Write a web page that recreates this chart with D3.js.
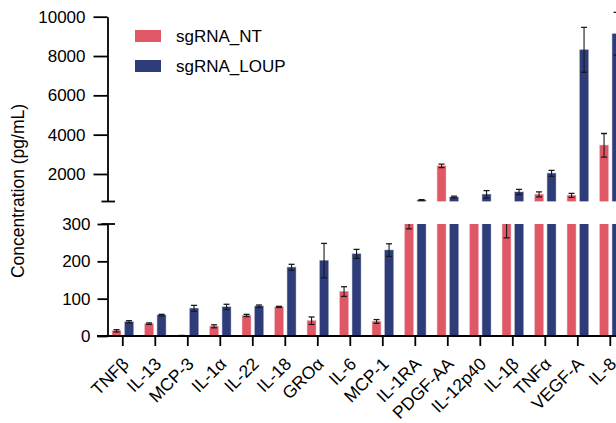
<!DOCTYPE html>
<html>
<head>
<meta charset="utf-8">
<script src="https://cdn.jsdelivr.net/npm/d3@7"></script>
<style>
  html, body { margin: 0; padding: 0; background: #fff; }
  svg { display: block; font-family: "Liberation Sans", Arial, sans-serif; }
</style>
</head>
<body>
<svg id="chart" width="616" height="423"></svg>
<script>
const categories = ["TNFβ","IL-13","MCP-3","IL-1α","IL-22","IL-18","GROα","IL-6","MCP-1","IL-1RA","PDGF-AA","IL-12p40","IL-1β","TNFα","VEGF-A","IL-8"];
const seriesNames = ["sgRNA_NT","sgRNA_LOUP"];
const ntValues   = [14, 33, 1, 26, 55, 78, 41, 119, 39, 305, 2411, 420, 340, 960, 910, 3460];
const ntErrors   = [3, 2, 0.5, 4, 3, 1.5, 10, 13, 5, 18, 90, 40, 77, 125, 100, 600];
const loupValues = [38, 56, 74, 78, 80, 184, 202, 220, 230, 670, 827, 960, 1083, 2033, 8315, 9130];
const loupErrors = [3, 2, 8, 7, 3, 8, 46, 12, 17, 30, 45, 190, 135, 150, 1140, 1090];
const lowerTicks = [0, 100, 200, 300];
const upperTicks = [2000, 4000, 6000, 8000, 10000];
const colors = ["#E05866", "#2E3D79"];

const svg = d3.select("#chart");
const fontSize = 17;

const step = 32.5;
const firstCenter = 122.8;
const x = d3.scaleBand().domain(categories)
  .range([firstCenter - step / 2, firstCenter - step / 2 + step * categories.length])
  .paddingInner(0).paddingOuter(0);
const barW = 8.5, barGap = 4;
const offsets = [-(barW + barGap) / 2, (barW + barGap) / 2];

const yLow = d3.scaleLinear().domain([0, 300]).range([336, 224]);
const yUp = d3.scaleLinear().domain([600, 10000]).range([201.5, 16.7]);

const defs = svg.append("defs");
defs.append("clipPath").attr("id", "clipLow").append("rect")
  .attr("x", 0).attr("y", yLow(300)).attr("width", 616).attr("height", yLow(0) - yLow(300));
defs.append("clipPath").attr("id", "clipUp").append("rect")
  .attr("x", 0).attr("y", 0).attr("width", 616).attr("height", yUp(600));

const series = [
  { name: seriesNames[0], values: ntValues, errors: ntErrors, color: colors[0], off: offsets[0] },
  { name: seriesNames[1], values: loupValues, errors: loupErrors, color: colors[1], off: offsets[1] }
];

function drawPanel(g, y, base) {
  series.forEach(s => {
    categories.forEach((c, i) => {
      const v = s.values[i], e = s.errors[i];
      const cx = x(c) + x.bandwidth() / 2 + s.off;
      const top = y(Math.max(v, base));
      g.append("rect")
        .attr("x", cx - barW / 2).attr("y", top)
        .attr("width", barW).attr("height", Math.max(0, y(base) - top))
        .attr("fill", s.color)
        .attr("stroke", s.color).attr("stroke-opacity", 0.35).attr("stroke-width", 1);
      const y1 = y(v - e), y2 = y(v + e);
      g.append("line").attr("x1", cx).attr("x2", cx).attr("y1", y1).attr("y2", y2)
        .attr("stroke", "#1a1a1a").attr("stroke-width", 1.1);
      [y1, y2].forEach(yy => {
        g.append("line").attr("x1", cx - 3).attr("x2", cx + 3).attr("y1", yy).attr("y2", yy)
          .attr("stroke", "#1a1a1a").attr("stroke-width", 1.3);
      });
    });
  });
}

drawPanel(svg.append("g").attr("clip-path", "url(#clipLow)"), yLow, 0);
drawPanel(svg.append("g").attr("clip-path", "url(#clipUp)"), yUp, 600);

const axisW = 1.8;
function styleAxis(g) {
  g.selectAll("path.domain").attr("stroke", "#000").attr("stroke-width", axisW);
  g.selectAll(".tick line").attr("stroke", "#000").attr("stroke-width", axisW);
  g.selectAll(".tick text").attr("fill", "#000").style("font-size", fontSize + "px")
    .style("font-family", "'Liberation Sans', Arial, sans-serif");
}

// Lower y axis
const gLow = svg.append("g").attr("transform", "translate(107.5,0)")
  .call(d3.axisLeft(yLow).tickValues(lowerTicks).tickSize(10).tickSizeOuter(0).tickPadding(7));
styleAxis(gLow);

// Upper y axis
const gUp = svg.append("g").attr("transform", "translate(107.5,0)")
  .call(d3.axisLeft(yUp).tickValues(upperTicks).tickSize(14).tickSizeOuter(0).tickPadding(8)
    .tickFormat(d3.format("d")));
styleAxis(gUp);

// Break caps
[yUp(600), yLow(300)].forEach(yy => {
  svg.append("line").attr("x1", 101.5).attr("x2", 115).attr("y1", yy).attr("y2", yy)
    .attr("stroke", "#000").attr("stroke-width", axisW);
});

// X axis
svg.append("line").attr("x1", 97).attr("x2", 616).attr("y1", yLow(0)).attr("y2", yLow(0))
  .attr("stroke", "#000").attr("stroke-width", axisW);
const gX = svg.append("g").attr("transform", `translate(0,${yLow(0)})`)
  .call(d3.axisBottom(x).tickSize(10).tickSizeOuter(0).tickPadding(4));
gX.select("path.domain").remove();
styleAxis(gX);
gX.selectAll(".tick text")
  .attr("text-anchor", "end")
  .attr("dy", null)
  .attr("y", 0)
  .style("font-size", "17.5px")
  .attr("transform", "translate(7,29) rotate(-45)");

// Y axis title
svg.append("text")
  .attr("transform", "translate(24,191) rotate(-90)")
  .attr("text-anchor", "middle")
  .style("font-size", "17.5px")
  .attr("fill", "#000")
  .text("Concentration (pg/mL)");

// Legend
const legend = svg.append("g");
series.forEach((s, i) => {
  legend.append("rect").attr("x", 135).attr("y", 30 + i * 30).attr("width", 26).attr("height", 12)
    .attr("fill", s.color);
  legend.append("text").attr("x", 176).attr("y", 41.5 + i * 30)
    .style("font-size", fontSize + "px").attr("fill", "#000").text(s.name);
});
</script>
</body>
</html>
